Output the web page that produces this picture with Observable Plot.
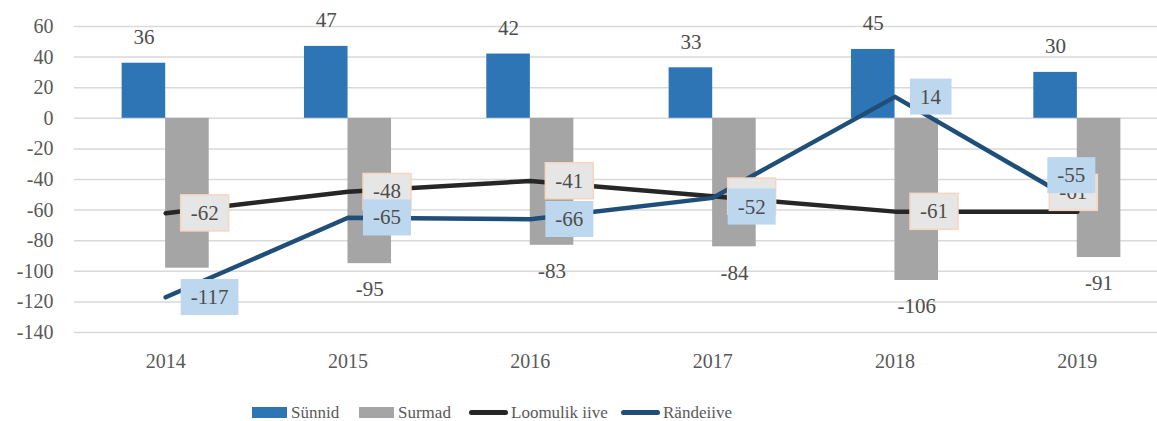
<!DOCTYPE html>
<html>
<head>
<meta charset="utf-8">
<script src="https://cdn.jsdelivr.net/npm/d3@7"></script>
<script src="https://cdn.jsdelivr.net/npm/@observablehq/plot@0.6"></script>
<style>
  html, body { margin: 0; padding: 0; background: #fff; overflow: hidden; }
  #chart svg { display: block; }
</style>
</head>
<body>
<div id="chart"></div>
<div id="legend" style="display:flex;align-items:center;height:25px;margin-left:252px;font-family:'Liberation Serif','Times New Roman',serif;font-size:17px;color:#595959;white-space:nowrap;"></div>
<script>
// ---- data ----
const years = ["2014", "2015", "2016", "2017", "2018", "2019"];
const births = [36, 47, 42, 33, 45, 30];          // Sünnid
const deaths = [-98, -95, -83, -84, -106, -91];    // Surmad
const natural = [-62, -48, -41, -51, -61, -61];    // Loomulik iive
const migration = [-117, -65, -66, -52, 14, -55];  // Rändeiive
const yTicks = [-140, -120, -100, -80, -60, -40, -20, 0, 20, 40, 60];
const seriesNames = ["Sünnid", "Surmad", "Loomulik iive", "Rändeiive"];
const colors = ["#2e75b6", "#a5a5a5", "#262626", "#1f4e79"];

const rows = years.map((year, i) => ({
  year, births: births[i], deaths: deaths[i], natural: natural[i], migration: migration[i]
}));

const FONT = "'Liberation Serif', 'Times New Roman', serif";
const TEXT = "#4d4d4d";
const labelFont = 21;
function boxLabels(data, key, tag, dx, dy) {
  return Plot.text(data, {
    x: "year", y: key, text: d => String(d[key]),
    textAnchor: "start", lineAnchor: "middle",
    fill: TEXT, fontSize: labelFont, fontFamily: FONT, dx, dy, ariaDescription: tag
  });
}

const chart = Plot.plot({
  width: 1157,
  height: 400,
  marginLeft: 74,
  marginRight: 0,
  marginTop: 26,
  marginBottom: 68,
  style: { fontFamily: FONT, fontSize: "20px", color: "#595959", background: "#fff" },
  x: {
    type: "band", domain: years, range: [74, 1168],
    paddingInner: 0.761, paddingOuter: 0.3805, round: false,
    tickSize: 0, tickPadding: 21, label: null
  },
  y: {
    domain: [-140, 60], ticks: yTicks, tickSize: 0, tickPadding: 21,
    tickFormat: d => String(d), label: null
  },
  marks: [
    Plot.ruleY(yTicks, { stroke: "#d9d9d9", strokeWidth: 1.5 }),
    Plot.barY(rows, { x: "year", y: "births", fill: colors[0], dx: -21.75 }),
    Plot.barY(rows, { x: "year", y: "deaths", fill: colors[1], dx: 21.75 }),
    Plot.text(rows, { x: "year", y: "births", text: d => String(d.births), dx: -21.75, dy: -26,
      fill: TEXT, fontSize: labelFont, fontFamily: FONT, lineAnchor: "middle" }),
    Plot.text(rows.filter(d => d.year !== "2014"), { x: "year", y: "deaths", text: d => String(d.deaths),
      dx: 21.75, dy: 26, fill: TEXT, fontSize: labelFont, fontFamily: FONT, lineAnchor: "middle" }),
    Plot.line(rows, { x: "year", y: "natural", stroke: colors[2], strokeWidth: 4.5, strokeLinecap: "round", strokeLinejoin: "round" }),
    Plot.line(rows, { x: "year", y: "migration", stroke: colors[3], strokeWidth: 4.5, strokeLinecap: "round", strokeLinejoin: "round" }),
    boxLabels(rows.filter(d => d.year !== "2019"), "natural", "lab-natural", 25, 0),
    boxLabels(rows.filter(d => d.year === "2019"), "natural", "lab-natural", -18, -19),
    boxLabels(rows.filter(d => d.year !== "2019" && d.year !== "2017"), "migration", "lab-migration", 25, 0),
    boxLabels(rows.filter(d => d.year === "2017"), "migration", "lab-migration", 25, 9),
    boxLabels(rows.filter(d => d.year === "2019"), "migration", "lab-migration", -20, -27)
  ]
});

document.getElementById("chart").append(chart);

// label boxes drawn behind each label text
const svgNS = "http://www.w3.org/2000/svg";
const boxStyle = {
  "lab-natural": { fill: "#e7e6e6", stroke: "#f8d5bf" },
  "lab-migration": { fill: "#bdd7ee", stroke: "none" }
};
chart.querySelectorAll("g").forEach(g => {
  const tag = g.getAttribute("aria-description");
  const st = boxStyle[tag];
  if (!st) return;
  Array.from(g.querySelectorAll("text")).forEach(t => {
    const b = t.getBBox();
    const r = document.createElementNS(svgNS, "rect");
    r.setAttribute("x", b.x - 10);
    r.setAttribute("width", b.width + 20);
    r.setAttribute("y", b.y + b.height / 2 - 18);
    r.setAttribute("height", 36);
    const tr = t.getAttribute("transform");
    if (tr) r.setAttribute("transform", tr);
    r.setAttribute("fill", st.fill);
    r.setAttribute("stroke", st.stroke);
    r.setAttribute("stroke-width", 1.5);
    t.parentNode.insertBefore(r, t);
  });
});

// legend (item widths follow the reference spacing)
const legendItemWidths = [107, 110, 152, null];
const legend = document.getElementById("legend");
seriesNames.forEach((name, i) => {
  const item = document.createElement("span");
  item.style.cssText = "display:flex;align-items:center;";
  if (legendItemWidths[i]) item.style.width = legendItemWidths[i] + "px";
  const sw = document.createElement("span");
  sw.style.cssText = i < 2
    ? "display:inline-block;flex:none;width:35px;height:11px;margin-right:4px;"
    : "display:inline-block;flex:none;width:39px;height:5px;border-radius:3px;margin-right:3px;";
  sw.style.background = colors[i];
  const tx = document.createElement("span");
  tx.textContent = name;
  item.append(sw, tx);
  legend.append(item);
});
</script>
</body>
</html>
